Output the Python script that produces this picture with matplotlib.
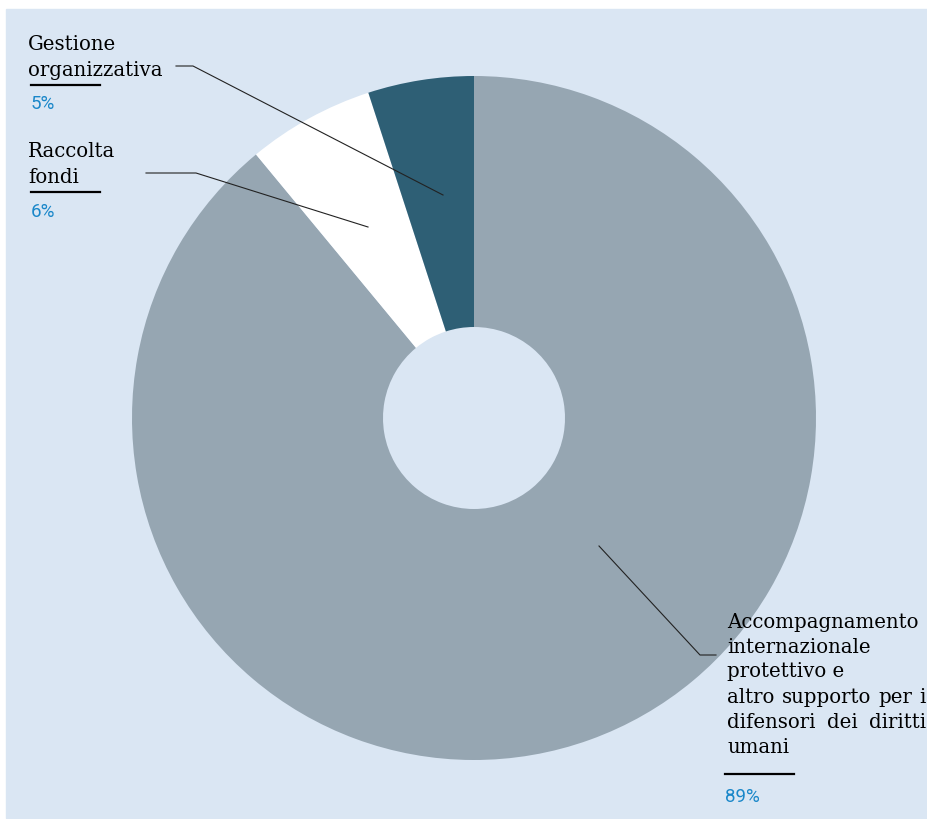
import matplotlib.pyplot as plt
from matplotlib.patches import Rectangle

W, H = 928, 819

# data
categories = ["Accompagnamento internazionale protettivo e altro supporto per i difensori dei diritti umani",
              "Raccolta fondi", "Gestione organizzativa"]
shares = [89, 6, 5]
pct_labels = ["89%", "6%", "5%"]
slice_colors = ["#96a6b2", "#ffffff", "#2e5f75"]

BG = "#dae6f3"
BLUE = "#1a87c9"


def fy(y):
    # image pixel row -> data y
    return H - y


fig = plt.figure(figsize=(W / 100, H / 100), dpi=100, facecolor="white")
ax = fig.add_axes([0, 0, 1, 1])

ax.add_patch(Rectangle((6, fy(818)), W - 6, 818 - 9, color=BG, zorder=0))

cx, cy, R, r_in = 474, fy(418), 342, 91
ax.pie(shares, colors=slice_colors, startangle=90, counterclock=False,
       center=(cx, cy), radius=R, frame=True,
       wedgeprops=dict(width=R - r_in, linewidth=0))
ax.set_xlim(0, W)
ax.set_ylim(0, H)
ax.set_aspect("equal")
ax.axis("off")

serif = "DejaVu Serif"
fs = 14.2
pfs = 13.5
renderer = fig.canvas.get_renderer()


def justified(x0, x1, yb, txt):
    words = txt.split()
    arts = [ax.text(0, fy(yb), w, family=serif, fontsize=fs, va="baseline", ha="left")
            for w in words]
    widths = [a.get_window_extent(renderer).width for a in arts]
    gap = (x1 - x0 - sum(widths)) / (len(words) - 1)
    x = x0
    for a, w in zip(arts, widths):
        a.set_x(x)
        x += w + gap


# Gestione organizzativa
ax.plot([176, 193, 443], [fy(66), fy(66), fy(195)], color="#222222", lw=0.8, zorder=5)
for txt, yb in zip(["Gestione", "organizzativa"], [50, 76]):
    ax.text(28, fy(yb), txt, family=serif, fontsize=fs, va="baseline", ha="left")
ax.plot([31, 100], [fy(85), fy(85)], color="black", lw=1.6)
ax.text(31, fy(104), pct_labels[2], family="Roboto", fontsize=pfs, color=BLUE, va="center")

# Raccolta fondi
ax.plot([146, 196, 368], [fy(173), fy(173), fy(227)], color="#222222", lw=0.8, zorder=5)
for txt, yb in zip(["Raccolta", "fondi"], [157, 183]):
    ax.text(28, fy(yb), txt, family=serif, fontsize=fs, va="baseline", ha="left")
ax.plot([31, 100], [fy(192), fy(192)], color="black", lw=1.6)
ax.text(31, fy(212), pct_labels[1], family="Roboto", fontsize=pfs, color=BLUE, va="center")

# Accompagnamento
ax.plot([599, 700, 716], [fy(546), fy(655), fy(655)], color="#222222", lw=0.8, zorder=5)
acc_lines = ["Accompagnamento", "internazionale", "protettivo e",
             "altro supporto per i", "difensori dei diritti", "umani"]
acc_base = [628, 653, 677, 703, 728, 753]
acc_just = [False, False, False, True, True, False]
for txt, yb, jst in zip(acc_lines, acc_base, acc_just):
    if jst:
        justified(727, 926, yb, txt)
    else:
        ax.text(727, fy(yb), txt, family=serif, fontsize=fs, va="baseline", ha="left")
ax.plot([725, 794], [fy(774), fy(774)], color="black", lw=1.6)
ax.text(725, fy(797), pct_labels[0], family="Roboto", fontsize=pfs, color=BLUE, va="center")

fig.savefig("out.png", dpi=100, facecolor="white")
